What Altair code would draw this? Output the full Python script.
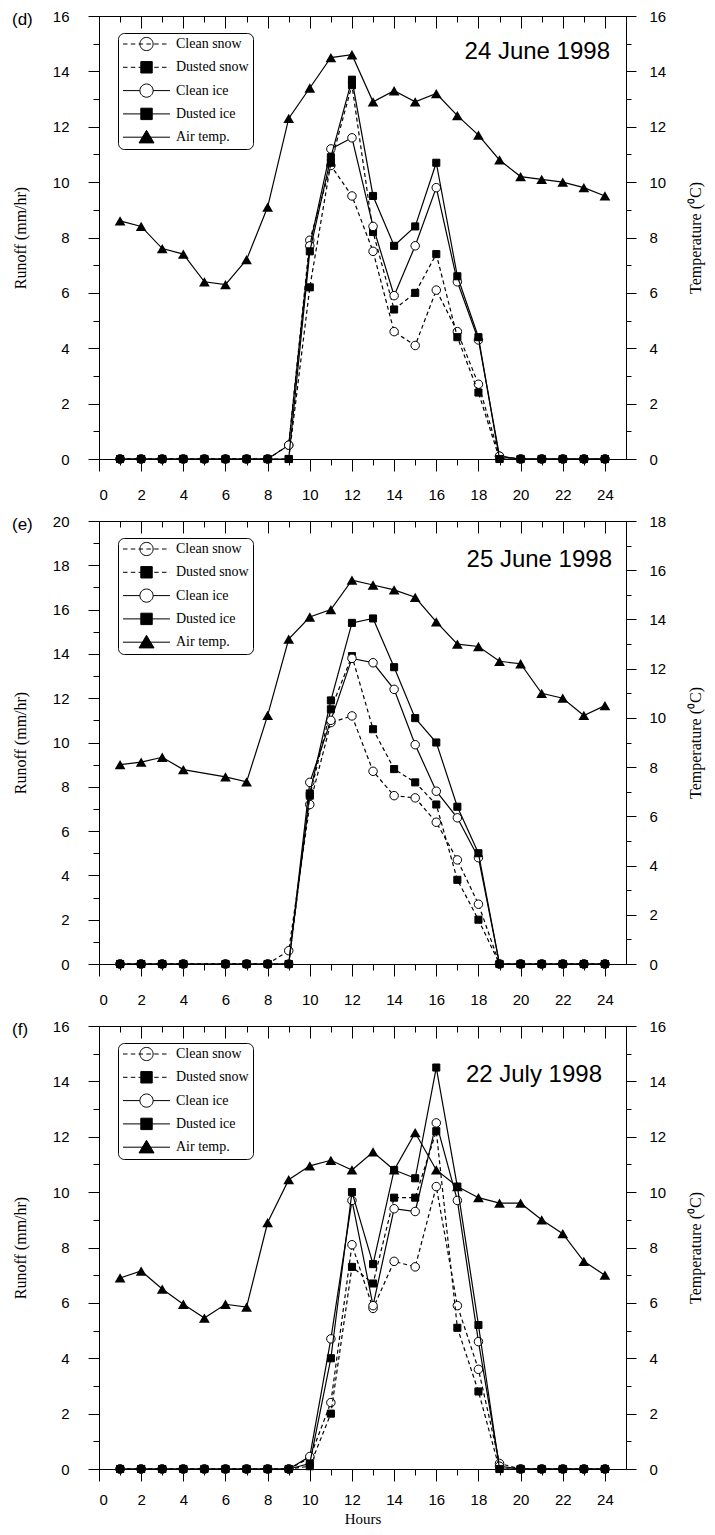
import altair as alt
import pandas as pd

# ---------------- data ----------------
hours_d = list(range(1, 25))
hours_e = [1, 2, 3, 4] + list(range(6, 25))
hours_f = list(range(1, 25))

# (d) 24 June 1998
d_clean_snow = [0, 0, 0, 0, 0, 0, 0, 0, 0.5, 7.9, 10.6, 9.5, 7.5, 4.6, 4.1, 6.1, 4.6, 2.7, 0.1, 0, 0, 0, 0, 0]
d_dusted_snow = [0, 0, 0, 0, 0, 0, 0, 0, 0, 6.2, 10.7, 13.5, 8.2, 5.4, 6.0, 7.4, 4.4, 2.4, 0, 0, 0, 0, 0, 0]
d_clean_ice = [0, 0, 0, 0, 0, 0, 0, 0, 0.5, 7.7, 11.2, 11.6, 8.4, 5.9, 7.7, 9.8, 6.4, 4.3, 0.1, 0, 0, 0, 0, 0]
d_dusted_ice = [0, 0, 0, 0, 0, 0, 0, 0, 0, 7.5, 10.9, 13.7, 9.5, 7.7, 8.4, 10.7, 6.6, 4.4, 0, 0, 0, 0, 0, 0]
d_air_temp = [8.6, 8.4, 7.6, 7.4, 6.4, 6.3, 7.2, 9.1, 12.3, 13.4, 14.5, 14.6, 12.9, 13.3, 12.9, 13.2,
              12.4, 11.7, 10.8, 10.2, 10.1, 10.0, 9.8, 9.5]

# (e) 25 June 1998 (no reading at hour 5)
e_clean_snow = [0, 0, 0, 0, 0, 0, 0, 0.6, 7.2, 10.9, 11.2, 8.7, 7.6, 7.5, 6.4, 4.7, 2.7, 0, 0, 0, 0, 0, 0]
e_dusted_snow = [0, 0, 0, 0, 0, 0, 0, 0, 7.6, 11.5, 13.9, 10.6, 8.8, 8.2, 7.2, 3.8, 2.0, 0, 0, 0, 0, 0, 0]
e_clean_ice = [0, 0, 0, 0, 0, 0, 0, 0, 8.2, 11.0, 13.8, 13.6, 12.4, 9.9, 7.8, 6.6, 4.8, 0, 0, 0, 0, 0, 0]
e_dusted_ice = [0, 0, 0, 0, 0, 0, 0, 0, 7.7, 11.9, 15.4, 15.6, 13.4, 11.1, 10.0, 7.1, 5.0, 0, 0, 0, 0, 0, 0]
e_air_temp = [8.1, 8.2, 8.4, 7.9, 7.6, 7.4, 10.1, 13.2, 14.1, 14.4, 15.6, 15.4, 15.2, 14.9, 13.9, 13.0,
              12.9, 12.3, 12.2, 11.0, 10.8, 10.1, 10.5]

# (f) 22 July 1998
f_clean_snow = [0, 0, 0, 0, 0, 0, 0, 0, 0, 0.4, 2.4, 8.1, 5.8, 7.5, 7.3, 10.2, 5.9, 3.6, 0.2, 0, 0, 0, 0, 0]
f_dusted_snow = [0, 0, 0, 0, 0, 0, 0, 0, 0, 0.1, 2.0, 7.3, 6.7, 9.8, 9.8, 12.2, 5.1, 2.8, 0, 0, 0, 0, 0, 0]
f_clean_ice = [0, 0, 0, 0, 0, 0, 0, 0, 0, 0.45, 4.7, 9.7, 5.9, 9.4, 9.3, 12.5, 9.7, 4.6, 0.1, 0, 0, 0, 0, 0]
f_dusted_ice = [0, 0, 0, 0, 0, 0, 0, 0, 0, 0.2, 4.0, 10.0, 7.4, 10.8, 10.5, 14.5, 10.2, 5.2, 0, 0, 0, 0, 0, 0]
f_air_temp = [6.9, 7.15, 6.5, 5.95, 5.45, 5.95, 5.85, 8.9, 10.45, 10.95, 11.15, 10.8, 11.45, 10.8, 12.15,
              10.8, 10.2, 9.8, 9.6, 9.6, 9.0, 8.5, 7.5, 7.0]

series_names = ["Clean snow", "Dusted snow", "Clean ice", "Dusted ice", "Air temp."]
panel_labels = ["(d)", "(e)", "(f)"]
dates = ["24 June 1998", "25 June 1998", "22 July 1998"]
runoff_max = [16, 20, 16]
temp_max = [16, 18, 16]
hour_major = list(range(0, 25, 2))
hour_minor = list(range(1, 25, 2))

# ---------------- styling ----------------
W, H = 527, 443
SANS = "Liberation Sans"
SERIF = "Liberation Serif"
DATE_POS = [(511, 36), (513, 39), (503, 49)]  # pixel placement of the date captions
XLAB_PAD = [16, 16, 11]
LW = 1.2

STYLE = {
    "clean_snow": dict(dash=True, shape="circle", fill="white", size=72),
    "dusted_snow": dict(dash=True, shape="square", fill="black", size=50),
    "clean_ice": dict(dash=False, shape="circle", fill="white", size=72),
    "dusted_ice": dict(dash=False, shape="square", fill="black", size=50),
}


def f2(v):
    return f"{v:.2f}"


# legend symbols: line sample + marker, drawn as custom SVG paths (unit = sqrt(size)/2)
L0, L1, MC = -1.0, 6.83, 2.92


def sample_line(dashed, cut=None):
    segs = []
    if dashed:
        x = L0
        while x < L1:
            x2 = min(x + 0.75, L1)
            segs.append((x, x2))
            x = x2 + 0.55
    else:
        if cut:
            segs = [(L0, MC - cut), (MC + cut, L1)]
        else:
            segs = [(L0, L1)]
    return "".join(f"M{f2(a)},0L{f2(b)},0" for a, b in segs)


def circle_path(r=1.1):
    return (f"M{f2(MC + r)},0A{r},{r} 0 1,1 {f2(MC - r)},0"
            f"A{r},{r} 0 1,1 {f2(MC + r)},0Z")


def square_path(h=0.95):
    return f"M{f2(MC - h)},{-h}H{f2(MC + h)}V{h}H{f2(MC - h)}Z"


def triangle_path():
    return f"M{f2(MC)},-1.15L{f2(MC + 1.25)},0.95L{f2(MC - 1.25)},0.95Z"


legend_paths = [
    sample_line(True) + circle_path(),
    sample_line(True) + square_path(),
    sample_line(False, cut=1.1) + circle_path(),
    sample_line(False) + square_path(),
    sample_line(False) + triangle_path(),
]
legend_fills = ["white", "black", "white", "black", "black"]


def tick_axis(orient, values, size, offset=0):
    kw = dict(orient=orient, values=values, labels=False, tickSize=size, domain=False,
              grid=False, title=None)
    if offset:
        kw["offset"] = offset
    return alt.Axis(**kw)


def make_panel(i, hours, cs, ds, ci, di, at, last):
    df = pd.DataFrame({"hour": hours, "clean_snow": cs, "dusted_snow": ds,
                       "clean_ice": ci, "dusted_ice": di, "air_temp": at})
    base = alt.Chart(df)
    xsc = alt.Scale(domain=[0, 25], nice=False, zero=False)
    ysc = alt.Scale(domain=[0, runoff_max[i]], nice=False)
    tsc = alt.Scale(domain=[0, temp_max[i]], nice=False)

    xaxis_kw = dict(orient="bottom", values=hour_major, tickSize=12, labelPadding=XLAB_PAD[i],
                    grid=False, labelFont=SANS, labelFontSize=15)
    if last:
        xaxis = alt.Axis(title="Hours", titleFont=SERIF, titleFontSize=15,
                         titleFontWeight="normal", titlePadding=4, **xaxis_kw)
    else:
        xaxis = alt.Axis(title=None, **xaxis_kw)

    yaxis = alt.Axis(orient="left", values=list(range(0, runoff_max[i] + 1, 2)),
                     tickSize=11, labelPadding=19, grid=False,
                     title="Runoff (mm/hr)", titleFont=SERIF, titleFontSize=16,
                     titleFontWeight="normal", titlePadding=24, labelFont=SANS, labelFontSize=15)

    layers = []
    for k, col in enumerate(["clean_snow", "dusted_snow", "clean_ice", "dusted_ice"]):
        st = STYLE[col]
        line_kw = dict(color="black", strokeWidth=LW)
        if st["dash"]:
            line_kw["strokeDash"] = [4, 3]
        layers.append(
            base.mark_line(
                point=alt.OverlayMarkDef(shape=st["shape"], filled=True, fill=st["fill"],
                                         stroke="black", strokeWidth=1, size=st["size"], opacity=1),
                **line_kw,
            ).encode(
                x=alt.X("hour:Q", scale=xsc, axis=xaxis if k == 0 else None),
                y=alt.Y(f"{col}:Q", scale=ysc, axis=yaxis if k == 0 else None),
            )
        )

    taxis = alt.Axis(orient="right", values=list(range(0, temp_max[i] + 1, 2)),
                     tickSize=10, labelPadding=13, grid=False,
                     title="Temperature (⁰C)", titleFont=SERIF, titleFontSize=16,
                     titleFontWeight="normal", titleAngle=270, titleBaseline="top",
                     titlePadding=22, labelFont=SANS, labelFontSize=15)
    layers.append(base.mark_line(
        color="black", strokeWidth=LW,
        point=alt.OverlayMarkDef(shape="triangle-up", filled=True, fill="black", size=115, opacity=1),
    ).encode(
        x=alt.X("hour:Q", scale=xsc, axis=None),
        y=alt.Y("air_temp:Q", scale=tsc, axis=taxis),
    ))

    # minor / inward tick axes (invisible marks that only carry axes)
    layers.append(base.mark_point(opacity=0).encode(
        x=alt.X("hour:Q", scale=xsc, axis=tick_axis("bottom", hour_minor, 6)),
        y=alt.Y("clean_snow:Q", scale=ysc,
                axis=tick_axis("left", list(range(1, runoff_max[i], 2)), 6)),
    ))
    layers.append(base.mark_point(opacity=0).encode(
        x=alt.X("hour:Q", scale=xsc, axis=tick_axis("top", hour_major, 12, -12)),
        y=alt.Y("air_temp:Q", scale=tsc,
                axis=tick_axis("right", list(range(1, temp_max[i], 2)), 5)),
    ))
    layers.append(base.mark_point(opacity=0).encode(
        x=alt.X("hour:Q", scale=xsc, axis=tick_axis("top", hour_minor, 6, -6)),
        y=alt.Y("air_temp:Q", scale=tsc, axis=None),
    ))

    txt_df = pd.DataFrame({"date": [dates[i]], "lab": [panel_labels[i]]})
    dx, dy = DATE_POS[i]
    layers.append(alt.Chart(txt_df).mark_text(
        align="right", baseline="middle", font=SANS, fontSize=24, color="black"
    ).encode(x=alt.value(dx), y=alt.value(dy), text="date:N"))
    layers.append(alt.Chart(txt_df).mark_text(
        align="left", baseline="middle", font=SANS, fontSize=17, color="black"
    ).encode(x=alt.value(-87), y=alt.value(4), text="lab:N"))

    leg = alt.Legend(orient="none", legendX=19, legendY=17, title=None,
                     labelFont=SERIF, labelFontSize=14, labelColor="black", labelOffset=40,
                     padding=4, strokeColor="black", cornerRadius=6, fillColor="white",
                     rowPadding=6.3, symbolSize=144, symbolStrokeWidth=1, symbolOpacity=1)
    leg_df = pd.DataFrame({"series": series_names})
    layers.append(alt.Chart(leg_df).mark_point(
        opacity=1, filled=True, size=144, strokeWidth=1
    ).encode(
        shape=alt.Shape("series:N", scale=alt.Scale(domain=series_names, range=legend_paths), legend=leg),
        fill=alt.Fill("series:N", scale=alt.Scale(domain=series_names, range=legend_fills), legend=leg),
        stroke=alt.Stroke("series:N", scale=alt.Scale(domain=series_names, range=["black"] * 5), legend=leg),
    ).transform_filter("false"))

    return alt.layer(*layers).resolve_scale(x="independent", y="independent").properties(width=W, height=H)


p1 = make_panel(0, hours_d, d_clean_snow, d_dusted_snow, d_clean_ice, d_dusted_ice, d_air_temp, False)
p2 = make_panel(1, hours_e, e_clean_snow, e_dusted_snow, e_clean_ice, e_dusted_ice, e_air_temp, False)
p3 = make_panel(2, hours_f, f_clean_snow, f_dusted_snow, f_clean_ice, f_dusted_ice, f_air_temp, True)

chart = alt.vconcat(p1, p2, p3, spacing=62, bounds="flush").resolve_scale(
    shape="independent", fill="independent", stroke="independent"
).resolve_legend(
    shape="independent", fill="independent", stroke="independent"
).properties(
    padding={"left": 3, "top": 0, "right": 2, "bottom": 2}
).configure_view(
    stroke="black", strokeWidth=1
).configure_axis(
    labelColor="black", tickColor="black", domainColor="black", titleColor="black",
    tickWidth=1, domainWidth=1
)

chart.save("out.html", embed_options={"renderer": "svg", "actions": False})
